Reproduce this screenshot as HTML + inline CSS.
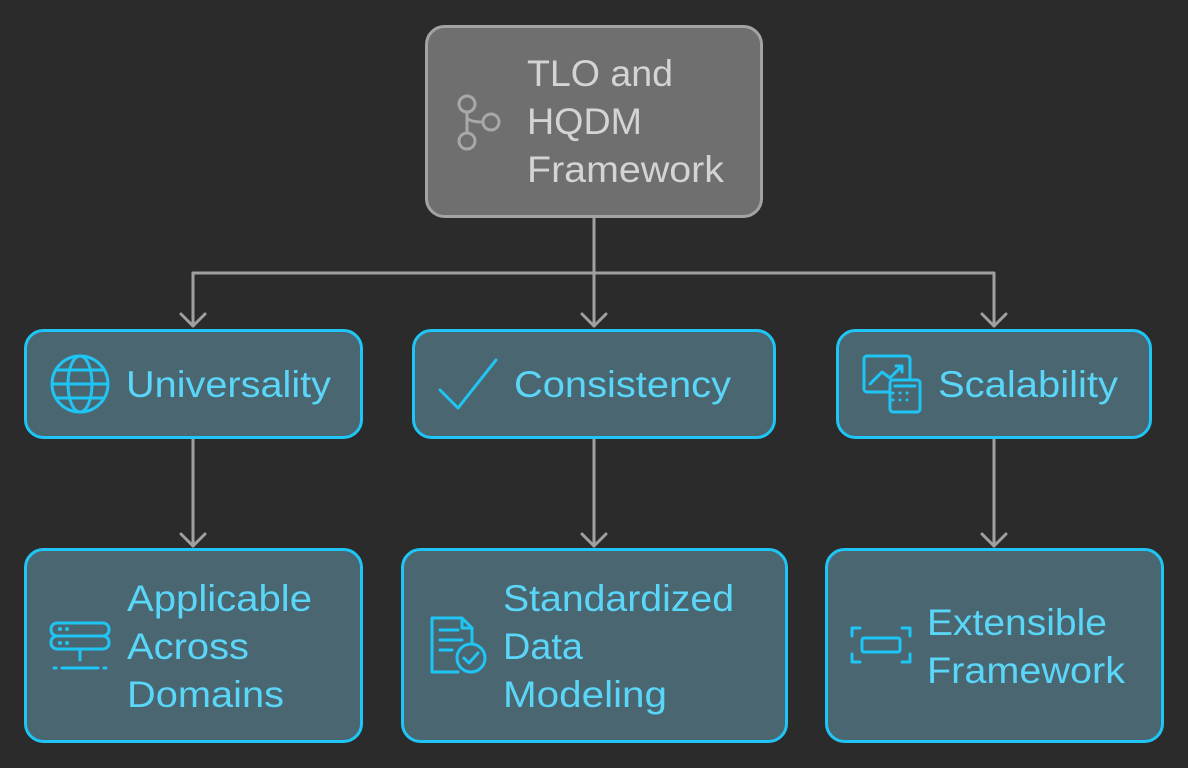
<!DOCTYPE html>
<html><head><style>
html,body{margin:0;padding:0;background:#2b2b2b;}
svg{display:block;font-family:"Liberation Sans",sans-serif;}
</style></head><body>
<svg width="1188" height="768" viewBox="0 0 1188 768">
<rect width="1188" height="768" fill="#2b2b2b"/>
<g stroke="#a0a0a0" stroke-width="3" fill="none" stroke-linecap="round" stroke-linejoin="round">
<path d="M594 217V326M193 273H994M193 273V326M994 273V326"/>
<path d="M181 314L193 326L205 314M582 314L594 326L606 314M982 314L994 326L1006 314"/>
<path d="M193 438V546M594 438V546M994 438V546"/>
<path d="M181 534L193 546L205 534M582 534L594 546L606 534M982 534L994 546L1006 534"/>
</g>
<rect x="426.5" y="26.5" width="335" height="190" rx="18" fill="#6f6f6f" stroke="#a3a3a3" stroke-width="3"/>
<g fill="none" stroke="#a8a8a8" stroke-width="3">
<circle cx="467" cy="104" r="8"/><circle cx="467" cy="141" r="8"/><circle cx="491" cy="122" r="8"/>
<path d="M467 112V133M467 118Q470 122 483 122"/>
</g>
<g fill="#d4d4d4" font-size="37" lengthAdjust="spacingAndGlyphs">
<text x="527" y="86" textLength="146" lengthAdjust="spacingAndGlyphs">TLO and</text>
<text x="527" y="134" textLength="115" lengthAdjust="spacingAndGlyphs">HQDM</text>
<text x="527" y="182" textLength="197" lengthAdjust="spacingAndGlyphs">Framework</text>
</g>
<g fill="#4a6670" stroke="#1fc6f5" stroke-width="3">
<rect x="25.5" y="330.5" width="336" height="107" rx="18"/>
<rect x="413.5" y="330.5" width="361" height="107" rx="18"/>
<rect x="837.5" y="330.5" width="313" height="107" rx="18"/>
<rect x="25.5" y="549.5" width="336" height="192" rx="18"/>
<rect x="402.5" y="549.5" width="384" height="192" rx="18"/>
<rect x="826.5" y="549.5" width="336" height="192" rx="18"/>
</g>
<g fill="#5ad6f8" font-size="37">
<text x="126" y="397" textLength="205" lengthAdjust="spacingAndGlyphs">Universality</text>
<text x="514" y="397" textLength="217" lengthAdjust="spacingAndGlyphs">Consistency</text>
<text x="938" y="397" textLength="180" lengthAdjust="spacingAndGlyphs">Scalability</text>
<text x="127" y="611" textLength="185" lengthAdjust="spacingAndGlyphs">Applicable</text>
<text x="127" y="659" textLength="122" lengthAdjust="spacingAndGlyphs">Across</text>
<text x="127" y="707" textLength="157" lengthAdjust="spacingAndGlyphs">Domains</text>
<text x="503" y="611" textLength="231" lengthAdjust="spacingAndGlyphs">Standardized</text>
<text x="503" y="659" textLength="80" lengthAdjust="spacingAndGlyphs">Data</text>
<text x="503" y="707" textLength="164" lengthAdjust="spacingAndGlyphs">Modeling</text>
<text x="927" y="635" textLength="180" lengthAdjust="spacingAndGlyphs">Extensible</text>
<text x="927" y="683" textLength="198" lengthAdjust="spacingAndGlyphs">Framework</text>
</g>
<g fill="none" stroke="#1fc6f5" stroke-width="3" stroke-linecap="round" stroke-linejoin="round">
<circle cx="80" cy="384" r="28"/><ellipse cx="80" cy="384" rx="12" ry="28"/><path d="M52 384H108M56 370H104M56 398H104"/>
<path d="M440 390L458 408L496 360"/>
<rect x="864" y="356" width="46" height="36" rx="3"/><path d="M870 384L882 372L890 378L902 366M896 366H902V372"/>
<rect x="890" y="380" width="30" height="32" rx="3" fill="#4a6670"/><path d="M895 386H915"/>
<rect x="51" y="623" width="58" height="13" rx="6"/><rect x="51" y="636" width="58" height="13" rx="6"/><path d="M80 649V660M62 668H98M54 668H56M104 668H106"/>
<path d="M458 672H432V618H462L472 628V642M462 618V628H472M440 630H458M440 640H462M440 650H452"/>
<circle cx="471" cy="658" r="14"/><path d="M464 658L469 663L478 653"/>
<path d="M852 636V628H860M852 654V662H860M910 636V628H902M910 654V662H902"/><rect x="862" y="638" width="38" height="14" rx="2"/>
</g>
<g fill="#1fc6f5"><circle cx="893" cy="393" r="1.5"/><circle cx="900" cy="393" r="1.5"/><circle cx="907" cy="393" r="1.5"/><circle cx="893" cy="400" r="1.5"/><circle cx="900" cy="400" r="1.5"/><circle cx="907" cy="400" r="1.5"/><circle cx="60" cy="629" r="2"/><circle cx="67" cy="629" r="2"/><circle cx="60" cy="643" r="2"/><circle cx="67" cy="643" r="2"/></g>
</svg>
</body></html>
